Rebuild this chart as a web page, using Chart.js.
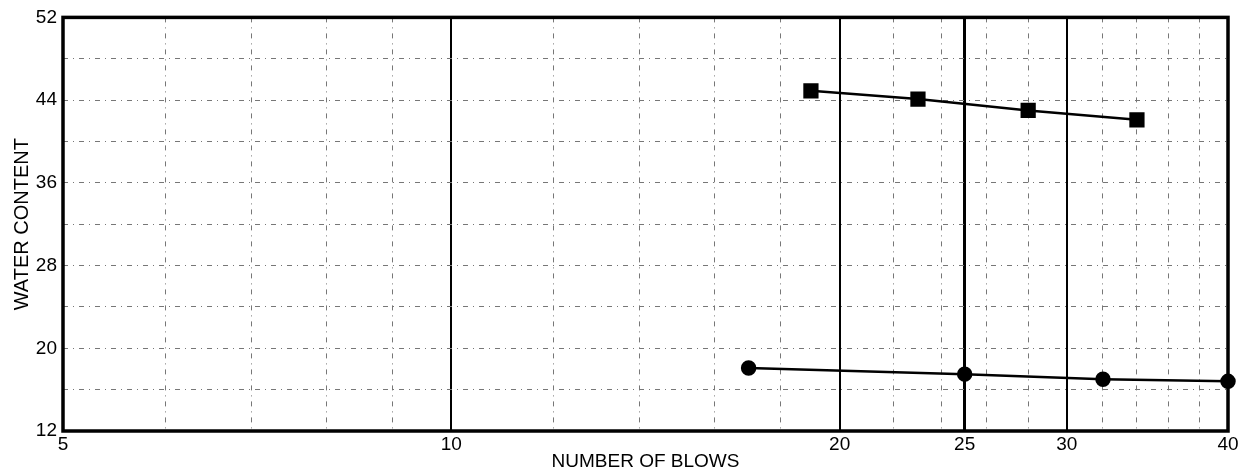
<!DOCTYPE html>
<html>
<head>
<meta charset="utf-8">
<script src="https://cdn.jsdelivr.net/npm/chart.js@4.4.0/dist/chart.umd.min.js"></script>
<style>
html, body { margin: 0; padding: 0; background: #fff; }
#wrap { width: 1244px; height: 473px; }
</style>
</head>
<body>
<div id="wrap"><canvas id="chart"></canvas></div>
<script>
// upper curve (squares)
const blowsUpper = [19, 23, 28, 34];
const waterUpper = [44.9, 44.1, 43.0, 42.1];
// lower curve (circles)
const blowsLower = [17, 25, 32, 40];
const waterLower = [18.1, 17.5, 17.0, 16.8];

const xGridValues = [5, 6, 7, 8, 9, 10, 12, 14, 16, 18, 20, 22, 24, 25, 26, 28, 30, 32, 34, 36, 38, 40];
const xTickLabels = [5, 10, 20, 25, 30, 40];
const xMajorLines = [10, 20, 25, 30];
const yTickLabels = [12, 20, 28, 36, 44, 52];

const FONT = "'Liberation Sans', Arial, sans-serif";

function toPoints(xs, ys) {
    return xs.map((x, i) => ({ x: x, y: ys[i] }));
}

const framePlugin = {
    id: 'frame',
    beforeDatasetsDraw(chart) {
        const { ctx, chartArea } = chart;
        ctx.save();
        ctx.strokeStyle = '#000';
        ctx.lineWidth = 3.5;
        ctx.strokeRect(chartArea.left, chartArea.top,
            chartArea.right - chartArea.left, chartArea.bottom - chartArea.top);
        ctx.restore();
    }
};

new Chart(
    document.getElementById('chart'),
    {
        type: 'scatter',
        plugins: [framePlugin],
        data: {
            datasets: [
                {
                    label: 'upper',
                    data: toPoints(blowsUpper, waterUpper),
                    showLine: true,
                    borderColor: '#000',
                    backgroundColor: '#000',
                    borderWidth: 2.5,
                    pointStyle: 'rect',
                    pointRadius: 9,
                    clip: false
                },
                {
                    label: 'lower',
                    data: toPoints(blowsLower, waterLower),
                    showLine: true,
                    borderColor: '#000',
                    backgroundColor: '#000',
                    borderWidth: 2.5,
                    pointStyle: 'circle',
                    pointRadius: 6.5,
                    clip: false
                }
            ]
        },
        options: {
            responsive: true,
            maintainAspectRatio: false,
            animation: false,
            layout: {
                padding: { top: 14, right: 16, left: 0, bottom: 0 }
            },
            plugins: {
                legend: { display: false },
                tooltip: { enabled: false }
            },
            scales: {
                x: {
                    type: 'logarithmic',
                    min: 5,
                    max: 40,
                    afterBuildTicks: (s) => {
                        s.ticks = xGridValues.map(v => ({ value: v }));
                    },
                    afterFit: (s) => { s.height = 42; },
                    ticks: {
                        autoSkip: false,
                        maxRotation: 0,
                        padding: 2,
                        color: '#000',
                        font: { family: FONT, size: 19 },
                        callback: (v) => xTickLabels.includes(v) ? String(v) : ''
                    },
                    grid: {
                        drawTicks: false,
                        color: (c) => {
                            const v = c.tick && c.tick.value;
                            if (v === 5 || v === 40) return 'rgba(0,0,0,0)';
                            return xMajorLines.includes(v) ? '#000' : '#777';
                        },
                        lineWidth: (c) => {
                            const v = c.tick && c.tick.value;
                            if (v === 25) return 3;
                            return xMajorLines.includes(v) ? 2 : 1;
                        }
                    },
                    border: {
                        display: false,
                        dash: (c) => {
                            const v = c.tick && c.tick.value;
                            return xMajorLines.includes(v) ? [] : [5, 5, 1, 5];
                        }
                    },
                    title: {
                        display: true,
                        text: 'NUMBER OF BLOWS',
                        color: '#000',
                        font: { family: FONT, size: 19 },
                        padding: { top: 0, bottom: 0 }
                    }
                },
                y: {
                    min: 12,
                    max: 52,
                    afterFit: (s) => { s.width = 63; },
                    ticks: {
                        stepSize: 4,
                        autoSkip: false,
                        padding: 6,
                        color: '#000',
                        font: { family: FONT, size: 19 },
                        callback: (v) => yTickLabels.includes(v) ? String(v) : ''
                    },
                    grid: {
                        drawTicks: false,
                        color: (c) => {
                            const v = c.tick && c.tick.value;
                            return (v === 12 || v === 52) ? 'rgba(0,0,0,0)' : '#777';
                        },
                        lineWidth: 1
                    },
                    border: {
                        display: false,
                        dash: [5, 5, 1, 5]
                    },
                    title: {
                        display: true,
                        text: 'WATER CONTENT',
                        color: '#000',
                        font: { family: FONT, size: 20 },
                        padding: { top: 10, bottom: 0 }
                    }
                }
            }
        }
    }
);
</script>
</body>
</html>
